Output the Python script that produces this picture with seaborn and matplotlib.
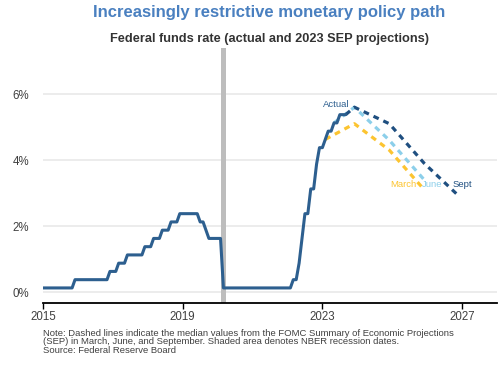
import matplotlib
matplotlib.use("Agg")
import matplotlib.pyplot as plt
import pandas as pd
import seaborn as sns

# actual federal funds rate (target range midpoint), vertices of the monthly path
actual_months = [
    "2015-01", "2015-11", "2015-12", "2016-11", "2016-12", "2017-02", "2017-03",
    "2017-05", "2017-06", "2017-11", "2017-12", "2018-02", "2018-03", "2018-05",
    "2018-06", "2018-08", "2018-09", "2018-11", "2018-12", "2019-06", "2019-07",
    "2019-08", "2019-09", "2019-10", "2020-02", "2020-03", "2022-02", "2022-03",
    "2022-04", "2022-05", "2022-06", "2022-07", "2022-08", "2022-09", "2022-10",
    "2022-11", "2022-12", "2023-01", "2023-02", "2023-03", "2023-04", "2023-05",
    "2023-06", "2023-07", "2023-09",
]
actual_rate = [
    0.125, 0.125, 0.375, 0.375, 0.625, 0.625, 0.875,
    0.875, 1.125, 1.125, 1.375, 1.375, 1.625, 1.625,
    1.875, 1.875, 2.125, 2.125, 2.375, 2.375, 2.125,
    2.125, 1.875, 1.625, 1.625, 0.125, 0.125, 0.375,
    0.375, 0.875, 1.625, 2.375, 2.375, 3.125, 3.125,
    3.875, 4.375, 4.375, 4.625, 4.875, 4.875, 5.125,
    5.125, 5.375, 5.375,
]

# SEP medians, each starting from the actual rate at the time of the meeting
march_months = ["2023-02", "2023-12", "2024-12", "2025-12"]
march_rate = [4.625, 5.1, 4.3, 3.1]
june_months = ["2023-05", "2023-12", "2024-12", "2025-12"]
june_rate = [5.125, 5.6, 4.6, 3.4]
sept_months = ["2023-09", "2023-12", "2024-12", "2025-12", "2026-12"]
sept_rate = [5.375, 5.6, 5.1, 3.9, 2.9]

recession = ("2020-02", "2020-04")
year_ticks = [2015, 2019, 2023, 2027]
pct_ticks = [0, 2, 4, 6]

C_ACTUAL = "#2d5f8f"
C_SEPT = "#1f4f80"
C_JUNE = "#8ccfea"
C_MARCH = "#fcc430"


def to_year(months):
    d = pd.to_datetime(pd.Series(months))
    return d.dt.year + (d.dt.month - 1) / 12


sns.set_theme(style="white")
plt.rcParams["font.family"] = ["Liberation Sans", "DejaVu Sans"]

fig = plt.figure(figsize=(5, 3.65), dpi=100)
ax = fig.add_axes([0.086, 0.170, 0.908, 0.699])

r0, r1 = to_year(list(recession))
ax.axvspan(r0, r1, color="#bdbdbd", lw=0, zorder=1)

for months, rate, color in [
    (march_months, march_rate, C_MARCH),
    (june_months, june_rate, C_JUNE),
    (sept_months, sept_rate, C_SEPT),
]:
    sns.lineplot(x=to_year(months), y=rate, ax=ax, color=color, lw=2.3,
                 zorder=3).lines[-1].set_dashes((1.8, 1.6))

sns.lineplot(x=to_year(actual_months), y=actual_rate, ax=ax, color=C_ACTUAL,
             lw=2.2, zorder=4)

ax.set_xlim(2015, 2028)
ax.set_ylim(-0.33, 7.4)
ax.set_xticks(year_ticks)
ax.set_xticklabels([str(y) for y in year_ticks])
ax.set_yticks(pct_ticks)
ax.set_yticklabels([f"{p}%" for p in pct_ticks])
ax.yaxis.grid(True, color="#ebebeb", lw=1.3)
ax.xaxis.grid(False)
for s in ["left", "right", "top"]:
    ax.spines[s].set_visible(False)
ax.spines["bottom"].set_color("black")
ax.spines["bottom"].set_linewidth(1.3)
ax.tick_params(axis="x", bottom=True, length=4, width=1, color="black",
               pad=2, labelsize=8.3, labelcolor="#404040")
ax.tick_params(axis="y", left=False, length=0, pad=10, labelsize=8.3,
               labelcolor="#404040")
ax.set_xlabel("")
ax.set_ylabel("")

lab = dict(fontsize=6.8, ha="center", va="center")
ax.text(2023.4, 5.68, "Actual", color=C_ACTUAL, **lab)
ax.text(2025.32, 3.27, "March", color=C_MARCH, **lab)
ax.text(2026.15, 3.27, "June", color=C_JUNE, **lab)
ax.text(2027.0, 3.27, "Sept", color=C_SEPT, **lab)

fig.text(0.538, 0.967, "Increasingly restrictive monetary policy path",
         ha="center", va="center", fontsize=12, fontweight="bold", color="#4a80c0")
fig.text(0.538, 0.893, "Federal funds rate (actual and 2023 SEP projections)",
         ha="center", va="center", fontsize=9.2, fontweight="bold", color="#333333")
fig.text(0.086, 0.100,
         "Note: Dashed lines indicate the median values from the FOMC Summary of Economic Projections\n"
         "(SEP) in March, June, and September. Shaded area denotes NBER recession dates.\n"
         "Source: Federal Reserve Board",
         ha="left", va="top", fontsize=6.8, linespacing=0.95, color="#404040")

fig.savefig("out.png", dpi=100)
